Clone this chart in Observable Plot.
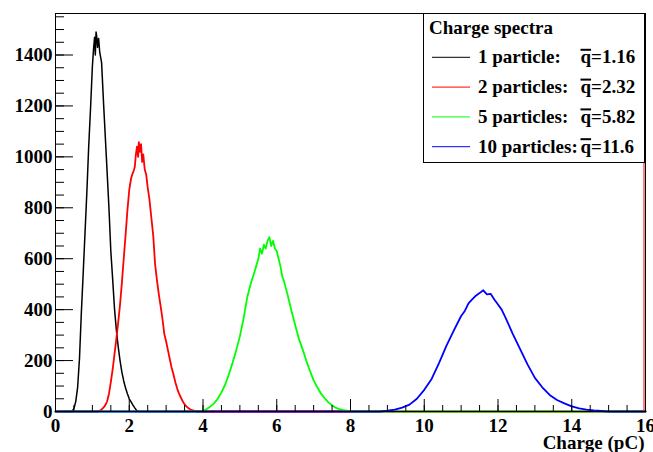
<!DOCTYPE html>
<html><head><meta charset="utf-8">
<script src="https://cdn.jsdelivr.net/npm/d3@7"></script>
<script src="https://cdn.jsdelivr.net/npm/@observablehq/plot@0.6"></script>
<style>
html,body{margin:0;padding:0;background:#fff;}
#chart{width:653px;height:452px;}
</style></head><body><div id="chart"></div>
<script>
// 1 particle (black)
const q1 = [0, 0.45, 0.50, 0.55, 0.60, 0.65, 0.70, 0.75, 0.80, 0.85, 0.90, 0.95, 1.00, 1.03, 1.06, 1.08, 1.10, 1.12, 1.14, 1.17, 1.20, 1.25, 1.30, 1.35, 1.40, 1.45, 1.50, 1.55, 1.60, 1.65, 1.70, 1.75, 1.80, 1.85, 1.90, 1.95, 2.00, 2.05, 2.10, 2.15, 2.20, 2.25, 16];
const n1 = [0, 0, 12, 40, 95, 207, 385, 540, 700, 860, 1040, 1190, 1355, 1420, 1470, 1400, 1490, 1470, 1430, 1465, 1410, 1370, 1220, 1080, 940, 797, 630, 520, 404, 320, 255, 200, 155, 120, 92, 70, 50, 38, 25, 14, 4, 0, 0];
// 2 particles (red)
const q2 = [0, 1.15, 1.20, 1.25, 1.30, 1.35, 1.40, 1.45, 1.50, 1.55, 1.60, 1.65, 1.70, 1.75, 1.80, 1.85, 1.90, 1.95, 2.00, 2.05, 2.08, 2.12, 2.15, 2.18, 2.21, 2.24, 2.26, 2.29, 2.32, 2.35, 2.38, 2.42, 2.46, 2.50, 2.55, 2.60, 2.65, 2.70, 2.75, 2.80, 2.85, 2.90, 2.95, 3.00, 3.05, 3.10, 3.15, 3.20, 3.25, 3.30, 3.35, 3.40, 3.45, 3.50, 3.55, 3.60, 3.65, 3.70, 3.75, 3.80, 3.85, 16];
const n2 = [0, 0, 3, 8, 15, 25, 40, 70, 115, 165, 225, 285, 350, 420, 505, 600, 692, 790, 870, 915, 930, 945, 960, 1010, 1040, 1000, 1058, 1020, 1050, 980, 1010, 950, 930, 880, 830, 760, 692, 580, 517, 462, 415, 365, 305, 275, 240, 205, 172, 145, 115, 90, 70, 55, 40, 28, 20, 14, 9, 5, 3, 1, 0, 0];
// 5 particles (green)
const q3 = [0, 3.9, 4.0, 4.1, 4.2, 4.3, 4.4, 4.5, 4.6, 4.7, 4.8, 4.9, 5.0, 5.1, 5.2, 5.3, 5.4, 5.5, 5.55, 5.6, 5.65, 5.7, 5.75, 5.8, 5.85, 5.9, 5.95, 6.0, 6.05, 6.1, 6.15, 6.2, 6.3, 6.4, 6.5, 6.6, 6.7, 6.8, 6.9, 7.0, 7.1, 7.2, 7.3, 7.4, 7.5, 7.6, 7.7, 7.8, 7.9, 8.0, 8.1, 16];
const n3 = [0, 0, 3, 10, 20, 32, 50, 75, 105, 145, 190, 240, 295, 365, 449, 505, 550, 600, 640, 620, 655, 640, 670, 685, 650, 670, 640, 630, 600, 570, 530, 510, 455, 395, 340, 285, 245, 200, 160, 122, 95, 70, 52, 36, 24, 15, 9, 5, 3, 1, 0, 0];
// 10 particles (blue)
const q4 = [0, 8.8, 9.0, 9.2, 9.4, 9.6, 9.8, 10.0, 10.2, 10.4, 10.6, 10.8, 11.0, 11.1, 11.2, 11.3, 11.4, 11.5, 11.6, 11.7, 11.8, 11.9, 12.0, 12.1, 12.2, 12.4, 12.6, 12.8, 13.0, 13.2, 13.4, 13.6, 13.8, 14.0, 14.2, 14.4, 14.6, 14.8, 15.0, 16];
const n4 = [0, 0, 3, 7, 15, 27, 50, 85, 128, 190, 258, 318, 375, 395, 425, 440, 455, 465, 476, 460, 462, 440, 420, 400, 370, 305, 245, 185, 132, 95, 65, 45, 32, 20, 12, 7, 4, 2, 0, 0];

const legendTitle = "Charge spectra";
const names = ["1 particle:", "2 particles:", "5 particles:", "10 particles:"];
const means = ["1.16", "2.32", "5.82", "11.6"];
const colors = ["#000000", "#ff0000", "#00ff00", "#0000ff"];
const xTitle = "Charge (pC)";
const yMajor = [0, 200, 400, 600, 800, 1000, 1200, 1400];
const xMajor = [0, 2, 4, 6, 8, 10, 12, 14, 16];

const qs = [q1, q2, q3, q4], ns = [n1, n2, n3, n4];
const widths = [1.5, 1.8, 1.8, 1.8];
const series = names.map((name, k) => ({name, mean: means[k], color: colors[k], width: widths[k],
  rows: qs[k].map((q, i) => ({q, n: ns[k][i]}))}));

const yMinor = d3.range(0, 1551, 50);
const xMinor = d3.range(0, 16.01, 0.5);
const font = "'Liberation Serif','Times New Roman',serif";

const svg = Plot.plot({
  width: 653, height: 452,
  marginTop: 13, marginBottom: 41, marginLeft: 55, marginRight: 8,
  style: {fontFamily: font, fontSize: "19px", fontWeight: "bold", background: "white", color: "black"},
  x: {domain: [0, 16]},
  y: {domain: [0, 1563]},
  marks: [
    ...series.map(s => Plot.line(s.rows, {x: "q", y: "n", stroke: s.color, strokeWidth: s.width})),
    Plot.ruleX([16], {stroke: "#ff0000", dx: -1.5}),
    Plot.frame({stroke: "black"}),
    Plot.axisY(yMinor, {tickSize: -9, fill: "none", label: null}),
    Plot.axisY(yMajor, {tickSize: -18, fill: "none", label: null}),
    Plot.axisY(yMajor, {tickSize: 0, tickPadding: 3, label: null, tickFormat: d => `${d}`}),
    Plot.axisX(xMinor, {tickSize: -6, fill: "none", label: null}),
    Plot.axisX(xMajor, {tickSize: -12, fill: "none", label: null}),
    Plot.axisX(xMajor, {tickSize: 0, tickPadding: 7, label: null, tickFormat: d => `${d}`}),
    Plot.text([xTitle], {text: d => d, frameAnchor: "bottom-right", textAnchor: "end", lineAnchor: "bottom", dy: 37, dx: -1})
  ]
});
document.getElementById("chart").appendChild(svg);

// Legend box (ROOT TLegend style)
const g = d3.select(svg).append("g")
  .attr("font-family", font).attr("font-size", 19).attr("font-weight", "bold")
  .attr("fill", "black").attr("text-anchor", "start");
g.append("rect").attr("x", 423.5).attr("y", 13.5).attr("width", 221).attr("height", 149)
  .attr("fill", "white").attr("stroke", "black");
g.append("text").attr("x", 429).attr("y", 33.5).text(legendTitle);
series.forEach((s, i) => {
  const by = 63.3 + i * 29.8;
  g.append("line").attr("x1", 432).attr("x2", 470).attr("y1", by - 6).attr("y2", by - 6)
    .attr("stroke", s.color).attr("stroke-width", 1);
  g.append("text").attr("x", 478).attr("y", by).text(s.name);
  const qt = g.append("text").attr("x", 580.5).attr("y", by).text("q");
  const w = qt.node().getComputedTextLength();
  g.append("line").attr("x1", 580.5).attr("x2", 580.5 + w).attr("y1", by - 13.5).attr("y2", by - 13.5)
    .attr("stroke", "black").attr("stroke-width", 2);
  g.append("text").attr("x", 580.5 + w).attr("y", by).text("=" + s.mean);
});
</script>
</body></html>
